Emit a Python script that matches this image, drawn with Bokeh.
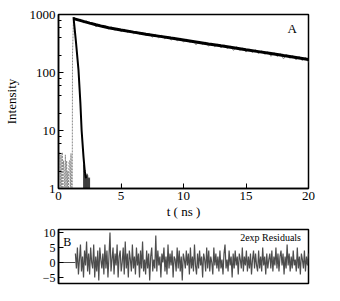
import numpy as np
from bokeh.plotting import figure
from bokeh.layouts import column
from bokeh.models import Label, NumeralTickFormatter, LogTicker, Range1d
from bokeh.embed import file_html
from bokeh.resources import INLINE

# ---------------- data ----------------
# pre-rise background counts (gray)
pre_t = [0.0, 0.05, 0.1, 0.15, 0.2, 0.25, 0.3, 0.35, 0.4, 0.45, 0.5, 0.55, 0.6, 0.65,
         0.7, 0.75, 0.8, 0.85, 0.9, 0.95, 1.0, 1.05, 1.1, 1.12, 1.2]
pre_counts = [1, 4.2, 4.2, 1, 3.8, 1, 4.2, 1, 3.0, 2.0, 1, 3.8, 1, 3.0,
              1, 2.0, 1, 3.0, 3.0, 1, 4.0, 1, 1, 200, 900]

# decay data (gray, noisy)
dec_t = [1.25, 1.5, 1.75, 2.0, 2.25, 2.5, 2.75, 3.0, 3.25, 3.5, 3.75, 4.0, 4.25, 4.5, 4.75,
         5.0, 5.25, 5.5, 5.75, 6.0, 6.25, 6.5, 6.75, 7.0, 7.25, 7.5, 7.75, 8.0, 8.25, 8.5,
         8.75, 9.0, 9.25, 9.5, 9.75, 10.0, 10.25, 10.5, 10.75, 11.0, 11.25, 11.5, 11.75,
         12.0, 12.25, 12.5, 12.75, 13.0, 13.25, 13.5, 13.75, 14.0, 14.25, 14.5, 14.75,
         15.0, 15.25, 15.5, 15.75, 16.0, 16.25, 16.5, 16.75, 17.0, 17.25, 17.5, 17.75,
         18.0, 18.25, 18.5, 18.75, 19.0, 19.25, 19.5, 19.75, 20.0]
dec_counts = [870, 790, 830, 720, 770, 690, 720, 610, 680, 600, 640, 560, 610, 535, 580,
              505, 560, 490, 530, 465, 510, 455, 490, 430, 475, 405, 455, 395, 440, 380,
              420, 360, 405, 350, 390, 335, 375, 330, 360, 300, 350, 305, 335,
              285, 320, 278, 310, 265, 300, 258, 285, 240, 280, 240, 265,
              225, 255, 220, 248, 210, 238, 205, 228, 190, 220, 188, 212,
              172, 204, 175, 196, 165, 190, 160, 182, 150]

# two-exponential fit (black)
fit_t = [1.2, 1.5, 2.0, 2.5, 3.0, 3.5, 4.0, 5.0, 6.0, 7.0, 8.0, 9.0, 10.0, 11.0,
         12.0, 13.0, 14.0, 15.0, 16.0, 17.0, 18.0, 19.0, 20.0]
fit_vals = [850, 815, 760, 710, 665, 625, 592, 540, 497, 458, 424, 392, 363, 336,
            311, 288, 267, 247, 229, 212, 196, 182, 168]

# instrument response decay (black)
irf_t = [1.2, 1.4, 1.6, 1.75, 1.85, 2.0, 2.1, 2.2]
irf_vals = [900, 330, 110, 30, 10, 3.5, 2.0, 1.5]

# instrument response tail counts (black bars)
tail_t = [2.0, 2.05, 2.1, 2.15, 2.2, 2.25, 2.3, 2.35, 2.4, 2.45, 2.5]
tail_counts = [2.6, 2.0, 1.8, 1.9, 1.8, 1.7, 1.8, 1.7, 1.55, 1.5, 1.55]

# isolated count
lone_t = [5.0]
lone_counts = [1.2]

# residuals
res_flat_t = [0.0, 1.35]
res_flat = [0, 0]
residuals = [3, -2, 5, -4, 1, 6, -3, 2, -5, 4,
             -1, 7, -3, 3, -4, 5, 0, -2, 6, -5,
             2, -3, 4, -6, 5, 1, -2, 3, -4, 6,
             -2, 4, -5, 2, 10, -3, 1, 5, -4, 3,
             -1, 6, -5, 2, 4, -3, 0, 5, -4, 7,
             -2, 3, -5, 4, 1, -3, 6, -2, 2, -4,
             5, -1, 3, -5, 4, -2, 7, -3, 1, -4,
             4, -2, 3, -6, 2, 5, -3, 1, -2, 9,
             -3, 4, -1, 2, -5, 3, 0, 5, -3, 2,
             -4, 6, -2, 3, -1, 4, -5, 2, 1, -3,
             5, -2, 4, -3, 2, -6, 3, 1, -2, 4,
             -1, 3, -4, 5, -2, 2, -3, 6, -1, -4,
             3, -2, 4, -1, 2, -5, 3, 1, -3, 5,
             -2, 4, -3, 2, 0, -4, 5, -1, 3, -2,
             2, -3, 4, -2, 1, -4, 3, 6, -2, 1,
             -3, 4, -1, 2, -5, 3, -2, 4, -1, 2,
             -4, 3, 1, -2, 5, -3, 2, -1, 4, -3,
             2, -2, 3, -4, 1, 4, -2, 3, -1, -3,
             4, -2, 2, -3, 5, -1, 2, -4, 3, -2,
             1, 3, -2, 4, -3, 2, -1, 5, -2, 3,
             -3, 2, 4, -1, 3, -4, 2, -2, 6, -1,
             3, -3, 2, -2, 4, -1, 1, -3, 5, -2,
             2, -4, 3, 1, -2, 4, -3, 2, -1, 3]
res_t = np.linspace(1.35, 20.0, len(residuals))

x_ticks = [0, 5, 10, 15, 20]
res_ticks = [-5, 0, 5, 10]

SERIF = "Liberation Serif"

# ---------------- main panel ----------------
p = figure(width=324, height=222, y_axis_type="log",
           x_range=Range1d(0, 20), y_range=Range1d(1, 1000),
           output_backend="svg", toolbar_location=None,
           min_border_left=57, min_border_right=16, min_border_top=14, min_border_bottom=34)
p.grid.visible = False
p.outline_line_color = "black"
p.outline_line_width = 1.5
p.background_fill_color = "white"

p.xaxis.ticker = x_ticks
p.xaxis.minor_tick_line_color = None
p.yaxis.ticker = LogTicker()
p.yaxis.formatter = NumeralTickFormatter(format="0")
for ax in [p.xaxis[0], p.yaxis[0]]:
    ax.major_tick_in = 5
    ax.major_tick_out = 0
    ax.minor_tick_in = 3
    ax.minor_tick_out = 0
    ax.axis_line_width = 1.5
    ax.major_label_text_font = SERIF
    ax.major_label_text_font_size = "13px"
    ax.major_label_text_color = "black"
    ax.major_label_standoff = 3
    ax.axis_label_text_font = SERIF
    ax.axis_label_text_font_size = "13px"
    ax.axis_label_text_font_style = "normal"
    ax.axis_label_text_color = "black"

p.xaxis.axis_label = "t ( ns )"
p.xaxis.axis_label_standoff = 1
p.yaxis.axis_label = "Intensity"
p.yaxis.axis_label_standoff = 8

p.line(pre_t, pre_counts, line_color="#8a8a8a", line_width=1, line_dash="2 1")
p.vbar(x=lone_t, top=lone_counts, bottom=1, width=0.04, fill_color="#aaaaaa", line_color=None)
p.vbar(x=tail_t, top=tail_counts, bottom=1, width=0.05, fill_color="black", line_color=None)
p.line(dec_t, dec_counts, line_color="#8a8a8a", line_width=1)
p.line(irf_t, irf_vals, line_color="black", line_width=2)
p.line(fit_t, fit_vals, line_color="black", line_width=3)

p.add_layout(Label(x=18.7, y=585, text="A", text_align="center", text_baseline="middle",
                   text_font=SERIF, text_font_size="13px", text_color="black"))

# ---------------- residual panel ----------------
r = figure(width=324, height=71, x_range=p.x_range, y_range=Range1d(-7, 11),
           output_backend="svg", toolbar_location=None,
           min_border_left=57, min_border_right=16, min_border_top=7, min_border_bottom=10)
r.grid.visible = False
r.outline_line_color = "black"
r.outline_line_width = 1.5
r.xaxis.visible = False
r.yaxis.ticker = res_ticks
r.yaxis.major_label_overrides = {-5: "\u22125"}
r.yaxis.minor_tick_line_color = None
r.yaxis.major_tick_in = 5
r.yaxis.major_tick_out = 0
r.yaxis.axis_line_width = 1.5
r.yaxis.major_label_text_font = SERIF
r.yaxis.major_label_text_font_size = "12px"
r.yaxis.major_label_text_color = "black"
r.yaxis.major_label_standoff = 3

r.line(res_flat_t, res_flat, line_color="#4d4d4d", line_width=1)
r.line(res_t, residuals, line_color="#4d4d4d", line_width=1.2)

r.add_layout(Label(x=0.7, y=6.8, text="B", text_align="center", text_baseline="middle",
                   text_font=SERIF, text_font_size="12px", text_color="black"))
r.add_layout(Label(x=19.4, y=8.5, text="2exp Residuals", text_align="right",
                   text_baseline="middle", text_font=SERIF, text_font_size="10px",
                   text_color="black"))

layout = column(p, r, spacing=0)
open("out.html", "w").write(file_html(layout, INLINE))
